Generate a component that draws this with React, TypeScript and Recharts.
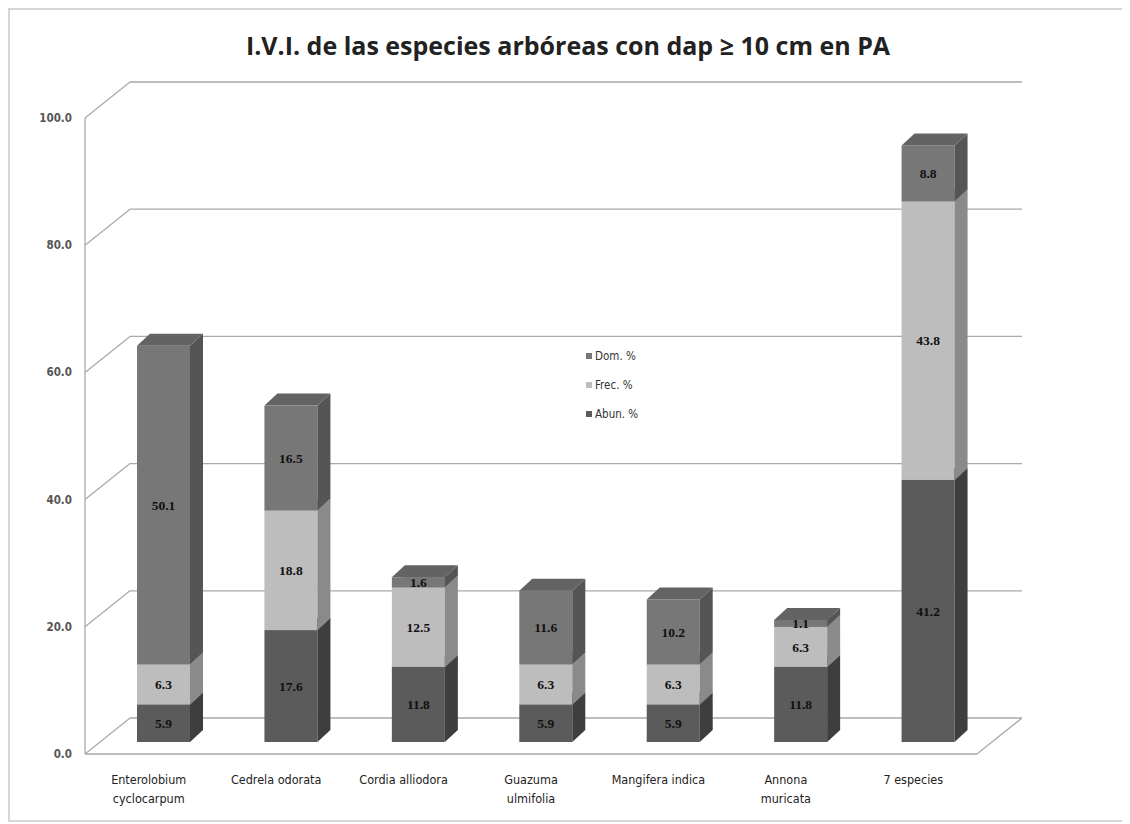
import { BarChart, Bar, XAxis, YAxis, CartesianGrid, LabelList, ReferenceLine } from 'recharts'

const categories = [
  'Enterolobium cyclocarpum',
  'Cedrela odorata',
  'Cordia alliodora',
  'Guazuma ulmifolia',
  'Mangifera indica',
  'Annona muricata',
  '7 especies',
]
const categoryLines: Record<string, string[]> = {
  'Enterolobium cyclocarpum': ['Enterolobium', 'cyclocarpum'],
  'Guazuma ulmifolia': ['Guazuma', 'ulmifolia'],
  'Annona muricata': ['Annona', 'muricata'],
}
const abun = [5.9, 17.6, 11.8, 5.9, 5.9, 11.8, 41.2]
const frec = [6.3, 18.8, 12.5, 6.3, 6.3, 6.3, 43.8]
const dom = [50.1, 16.5, 1.6, 11.6, 10.2, 1.1, 8.8]
const yTicks = [0, 20, 40, 60, 80, 100]

const series = [
  { key: 'abun', name: 'Abun. %', front: '#5b5b5b', side: '#3e3e3e', top: '#4b4b4b' },
  { key: 'frec', name: 'Frec. %', front: '#bdbdbd', side: '#8a8a8a', top: '#a5a5a5' },
  { key: 'dom', name: 'Dom. %', front: '#777777', side: '#555555', top: '#636363' },
]

const data = categories.map((name, i) => ({ name, abun: abun[i], frec: frec[i], dom: dom[i] }))

// depth offsets for the fake 3D look
const BAR_DX = 13
const BAR_DY = 12
const FRONT_DX = -15
const FRONT_DY = 12
const BACK_DX = 30
const BACK_DY = -24
const GRID = '#a9a9a9'

function make3D(side: string, top: string) {
  // eslint-disable-next-line @typescript-eslint/no-explicit-any
  return (props: any) => {
    const { x, y, width, height, fill } = props
    if (!height || height <= 0) return <g />
    const r = x + width
    const b = y + height
    return (
      <g>
        <rect x={x} y={y} width={width} height={height} fill={fill} />
        <polygon
          points={`${r},${y} ${r + BAR_DX},${y - BAR_DY} ${r + BAR_DX},${b - BAR_DY} ${r},${b}`}
          fill={side}
        />
        <polygon
          points={`${x},${y} ${x + BAR_DX},${y - BAR_DY} ${r + BAR_DX},${y - BAR_DY} ${r},${y}`}
          fill={top}
        />
      </g>
    )
  }
}

// eslint-disable-next-line @typescript-eslint/no-explicit-any
function gridLine(p: any) {
  const { x1, y1, x2 } = p
  return (
    <g key={p.key}>
      <line x1={x1 + FRONT_DX} y1={y1 + FRONT_DY} x2={x1 + BACK_DX} y2={y1 + BACK_DY} stroke={GRID} strokeWidth={1.3} />
      <line x1={x1 + BACK_DX} y1={y1 + BACK_DY} x2={x2 + BACK_DX} y2={y1 + BACK_DY} stroke={GRID} strokeWidth={1.3} />
    </g>
  )
}

// eslint-disable-next-line @typescript-eslint/no-explicit-any
function floorShape(p: any) {
  const { x1, y1, x2 } = p
  return (
    <g>
      <line x1={x1 + FRONT_DX} y1={y1 + FRONT_DY} x2={x2 + FRONT_DX} y2={y1 + FRONT_DY} stroke={GRID} strokeWidth={1.3} />
      <line x1={x2 + FRONT_DX} y1={y1 + FRONT_DY} x2={x2 + BACK_DX} y2={y1 + BACK_DY} stroke={GRID} strokeWidth={1.3} />
    </g>
  )
}

// eslint-disable-next-line @typescript-eslint/no-explicit-any
function YTick({ x, y, payload }: any) {
  return (
    <text
      x={x - 28}
      y={y + FRONT_DY}
      dy="0.35em"
      textAnchor="end"
      fontSize={11.5}
      fontWeight="bold"
      fontFamily="'Liberation Sans Narrow', 'DejaVu Sans Condensed', sans-serif"
      fill="#555"
    >
      {Number(payload.value).toFixed(1)}
    </text>
  )
}

// eslint-disable-next-line @typescript-eslint/no-explicit-any
function XTick({ x, y, payload }: any) {
  const lines = categoryLines[payload.value] || [payload.value]
  return (
    <text
      x={x + FRONT_DX}
      y={y + 42}
      textAnchor="middle"
      fontSize={12.5}
      fontFamily="'Liberation Sans Narrow', 'DejaVu Sans Condensed', sans-serif"
      fill="#222"
    >
      {lines.map((l, i) => (
        <tspan key={i} x={x + FRONT_DX} dy={i === 0 ? 0 : 19}>
          {l}
        </tspan>
      ))}
    </text>
  )
}

const fmt = (v: unknown) => Number(v).toFixed(1)

export default function App() {
  return (
    <div
      style={{
        position: 'relative',
        width: 1120,
        height: 814,
        boxSizing: 'border-box',
        border: '2px solid #d6d6d6',
        background: '#fff',
      }}
    >
      <div
        style={{
          position: 'absolute',
          top: 21,
          left: 0,
          width: '100%',
          textAlign: 'center',
          fontFamily: "'Open Sans', sans-serif",
          fontWeight: 700,
          fontSize: 25,
          lineHeight: '28px',
          color: '#222',
        }}
      >
        I.V.I. de las especies arbóreas con dap ≥ 10 cm en PA
      </div>
      <BarChart
        width={1116}
        height={810}
        data={data}
        barSize={53}
        margin={{ top: 96, right: 134, bottom: 30, left: 30 }}
      >
        <CartesianGrid horizontal={gridLine} vertical={false} />
        <XAxis dataKey="name" tick={XTick} axisLine={false} tickLine={false} tickSize={0} tickMargin={0} height={48} interval={0} />
        <YAxis
          domain={[0, 100]}
          ticks={yTicks}
          tick={YTick}
          tickLine={false}
          tickSize={0}
          tickMargin={0}
          width={60}
          axisLine={{ stroke: GRID, strokeWidth: 1.3, transform: `translate(${FRONT_DX},${FRONT_DY})` }}
        />
        <ReferenceLine y={0} shape={floorShape} ifOverflow="visible" />
        {series.map((s) => (
          <Bar
            key={s.key}
            dataKey={s.key}
            name={s.name}
            stackId="ivi"
            fill={s.front}
            shape={make3D(s.side, s.top)}
            isAnimationActive={false}
          >
            <LabelList
              dataKey={s.key}
              position="center"
              formatter={fmt}
              fontSize={13.5}
              fontWeight="bold"
              fontFamily="'Liberation Serif', serif"
              fill="#111"
            />
          </Bar>
        ))}
      </BarChart>
      <div
        style={{
          position: 'absolute',
          left: 576,
          top: 331,
          fontFamily: "'Liberation Sans Narrow', 'DejaVu Sans Condensed', sans-serif",
          fontSize: 11.5,
          color: '#333',
        }}
      >
        {[...series].reverse().map((s) => (
          <div key={s.key} style={{ height: 29, display: 'flex', alignItems: 'center' }}>
            <span
              style={{
                display: 'inline-block',
                width: 6,
                height: 6,
                background: s.front,
                marginRight: 3,
              }}
            />
            {s.name}
          </div>
        ))}
      </div>
    </div>
  )
}
